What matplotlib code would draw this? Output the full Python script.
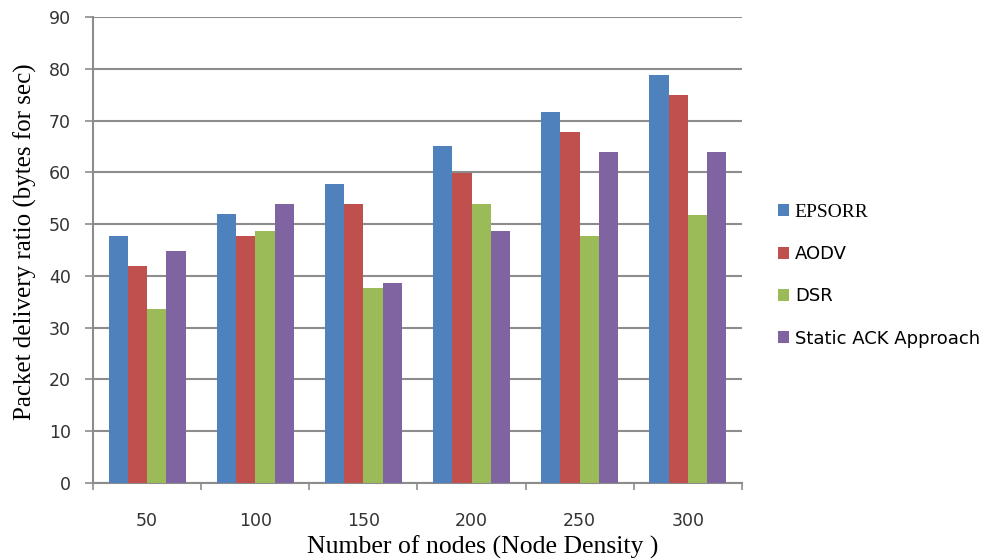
import numpy as np
import matplotlib.pyplot as plt
from matplotlib.ticker import FixedLocator

nodes = ['50', '100', '150', '200', '250', '300']
epsorr = [47.7, 52, 57.8, 65, 71.7, 78.8]
aodv = [41.9, 47.7, 53.9, 59.8, 67.8, 75]
dsr = [33.7, 48.6, 37.6, 53.8, 47.7, 51.8]
static_ack = [44.8, 53.9, 38.6, 48.7, 63.9, 63.9]

series = [('EPSORR', epsorr, '#4F81BD'),
          ('AODV', aodv, '#C0504D'),
          ('DSR', dsr, '#9BBB59'),
          ('Static ACK Approach', static_ack, '#8064A2')]

fig = plt.figure(figsize=(9.87, 5.6), dpi=100)
ax = fig.add_axes([93 / 987, 1 - 483 / 560, (742 - 93) / 987, (483 - 17) / 560])

x = np.arange(len(nodes))
w = 0.178
for i, (name, vals, col) in enumerate(series):
    ax.bar(x + (i - 1.5) * w, vals, w, color=col, label=name, zorder=3)

ax.set_xlim(-0.5, len(nodes) - 0.5)
ax.set_ylim(0, 90)
ax.set_yticks(range(0, 91, 10))
ax.yaxis.grid(True, color='#8c8c8c', linewidth=1.5, zorder=0)
ax.set_axisbelow(True)

# tick marks at category boundaries, labels at centres
ax.xaxis.set_major_locator(FixedLocator(np.arange(-0.5, len(nodes), 1)))
ax.set_xticklabels([])
ax.xaxis.set_minor_locator(FixedLocator(x))
ax.set_xticklabels(nodes, minor=True, fontsize=12.5, family='DejaVu Sans', color='#333333')
ax.tick_params(axis='x', which='minor', length=0, pad=21)
ax.tick_params(axis='x', which='major', length=5, width=1.2, color='#8c8c8c')
ax.tick_params(axis='y', length=6, width=1.2, color='#8c8c8c', labelsize=12.5,
               labelcolor='#333333', pad=10)

for s in ['top', 'right']:
    ax.spines[s].set_visible(False)
for s in ['left', 'bottom']:
    ax.spines[s].set_color('#8c8c8c')
    ax.spines[s].set_linewidth(1.5)

ax.set_ylabel('Packet delivery ratio (bytes for sec)', family='Liberation Serif', fontsize=18)
ax.yaxis.set_label_coords(-0.087, 0.517)
ax.set_xlabel('Number of nodes (Node Density )', family='Liberation Serif', fontsize=18.5)
ax.xaxis.set_label_coords((483 - 93) / 649, -0.112)

leg = ax.legend(loc='center left', bbox_to_anchor=(1.03, 0.445), frameon=False,
                handlelength=0.65, handleheight=0.65, handletextpad=0.3, labelspacing=1.35,
                prop={'family': 'DejaVu Sans', 'size': 13})
leg.get_texts()[0].set_family('Liberation Serif')
leg.get_texts()[0].set_fontsize(14)

fig.savefig('out.png', dpi=100)
